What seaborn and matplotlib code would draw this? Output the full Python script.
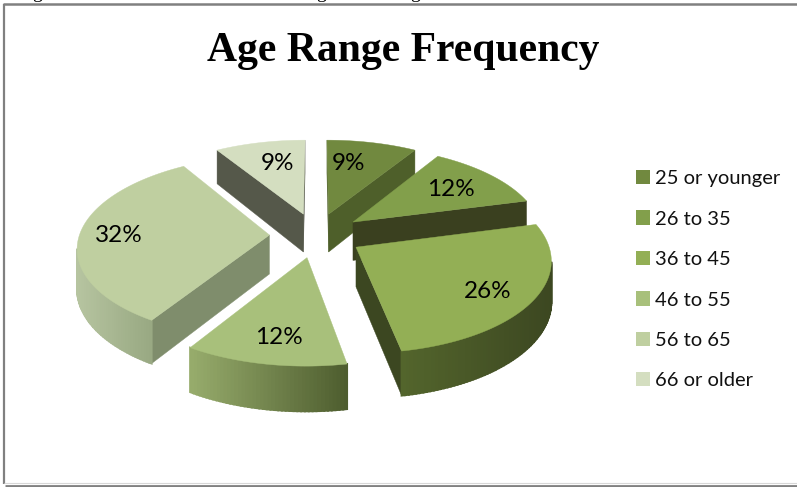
import numpy as np
import matplotlib
matplotlib.use("Agg")
import matplotlib.pyplot as plt
from matplotlib.colors import to_rgb
from matplotlib.patches import Patch
import seaborn as sns

# ---- data ----
title = "Age Range Frequency"
categories = ["25 or younger", "26 to 35", "36 to 45", "46 to 55", "56 to 65", "66 or older"]
percent = [9, 12, 26, 12, 32, 9]

# ---- styles ----
top_colors = ["#71893F", "#829F4B", "#93AF55", "#A8C07B", "#BFCFA0", "#D4DEC0"]
wall_colors = ["#4E5F2A", "#3A401F", "#3C4721", "#6F8440", "#7F8D6C", "#55584A"]
arc_left = ["#4E5F2A", "#3A401F", "#53652C", "#97AC6C", "#B6C4A0", "#55584A"]
arc_right = ["#3C4721", "#3A401F", "#3C4721", "#4D5C2E", "#98A882", "#55584A"]
draw_order = [5, 0, 1, 4, 2, 3]
label_xy = [(349, 163), (451, 189), (488, 291), (279, 337), (119, 236), (278, 163)]

# ---- layout (pixels) ----
W, H = 797, 487
CX, CY, R, TILT, EXPLODE, PERSP, DEPTH = 316.0, 235.0, 190.0, 0.48, 0.245, 0.128, 39.0

sns.set_theme(style="white")
plt.rcParams["font.family"] = ["Lato", "DejaVu Sans"]
palette = sns.color_palette(top_colors)

fig = plt.figure(figsize=(W / 100, H / 100), dpi=100, facecolor="white")
ax = fig.add_axes([0, 0, 1, 1])
ax.set_xlim(0, W)
ax.set_ylim(H, 0)
ax.axis("off")


def project(px, py):
    """plan coords (py>0 is toward the viewer) -> screen; returns x, y, scale"""
    s = 1 + PERSP * py
    return CX + px * R * s, CY + py * R * TILT * s, DEPTH * s


def slice_geometry(a0, a1):
    mid = (a0 + a1) / 2
    ox, oy = EXPLODE * np.sin(mid), -EXPLODE * np.cos(mid)
    t = np.linspace(a0, a1, max(int(np.degrees(a1 - a0)), 2) + 1)
    arc = [project(ox + np.sin(v), oy - np.cos(v)) for v in t]
    return project(ox, oy), arc


fractions = np.array(percent, float) / sum(percent)
ends = np.cumsum(fractions) * 2 * np.pi
starts = ends - fractions * 2 * np.pi


def wall(p, q, color, z, lw=0.3):
    xs = [p[0], q[0], q[0], p[0]]
    ys = [p[1], q[1], q[1] + q[2], p[1] + p[2]]
    ax.fill(xs, ys, color=color, lw=lw, zorder=z)


for z, i in enumerate(draw_order):
    apex, arc = slice_geometry(starts[i], ends[i])
    base = 2 + z
    # radial cut faces: visible when the clockwise outline runs leftward on screen
    if arc[0][0] < apex[0] - 0.5:
        wall(apex, arc[0], wall_colors[i], base)
    if apex[0] < arc[-1][0] - 0.5:
        wall(arc[-1], apex, wall_colors[i], base)
    # outer rim with a gradient across its visible extent
    segs = [(arc[k], arc[k + 1]) for k in range(len(arc) - 1) if arc[k + 1][0] < arc[k][0]]
    if segs:
        xmin = min(s[1][0] for s in segs)
        xmax = max(s[0][0] for s in segs)
        cl, cr = np.array(to_rgb(arc_left[i])), np.array(to_rgb(arc_right[i]))
        for p, q in segs:
            f = ((p[0] + q[0]) / 2 - xmin) / max(xmax - xmin, 1)
            wall(p, q, tuple(cl + (cr - cl) * f), base, lw=1.4)
    # top face
    xs = [apex[0]] + [a[0] for a in arc]
    ys = [apex[1]] + [a[1] for a in arc]
    ax.fill(xs, ys, color=palette[i], lw=0.3, zorder=base + 0.5)

for v, (x, y) in zip(percent, label_xy):
    ax.text(x, y, f"{v}%", ha="center", va="center", fontsize=17.5, color="black", zorder=20)

ax.text(403, 51, title, ha="center", va="center", fontsize=30, fontweight="bold",
        family="Liberation Serif", color="black")

handles = [Patch(facecolor=c, edgecolor="none", label=n) for c, n in zip(palette, categories)]
leg = ax.legend(handles=handles, loc="upper left", bbox_to_anchor=(632 / W, 1 - 166 / H),
                frameon=False, fontsize=14.5, labelspacing=1.16, handlelength=0.7,
                handleheight=0.7, handletextpad=0.25, borderpad=0.2, borderaxespad=0,
                labelcolor="#111111")

# picture frame
ax.plot([4, 4], [4, 484], color="#808080", lw=1.6, zorder=30, solid_capstyle="butt")
ax.plot([3, W], [4, 4], color="#808080", lw=1.8, zorder=30, solid_capstyle="butt")
ax.plot([4, W], [483, 483], color="#D8D8D8", lw=0.8, zorder=30, solid_capstyle="butt")
ax.plot([5, W], [485.6, 485.6], color="#808080", lw=2.0, zorder=30, solid_capstyle="butt")

# descenders of the cropped caption line above the picture
for x in [37, 321, 415]:
    ax.text(x, -1.8, "g", ha="center", va="baseline", fontsize=14,
            family="Liberation Serif", color="black", clip_on=True)

fig.savefig("out.png", dpi=100)
